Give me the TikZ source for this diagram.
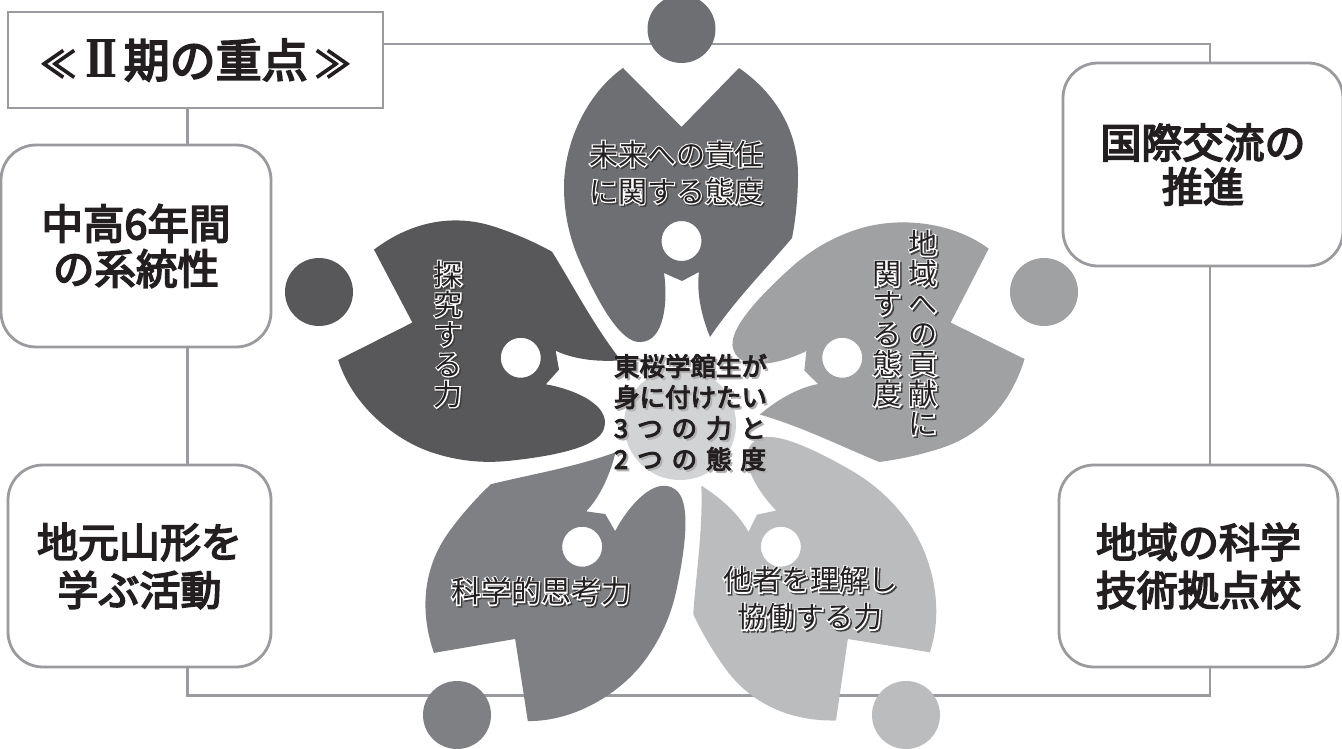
\documentclass[tikz,border=0pt]{standalone}
\usepackage{fontspec}
\setmainfont{Noto Sans CJK JP}
\newfontface\mediumface{Noto Sans CJK JP}[FakeBold=4]
\newfontface\rimface{Noto Sans CJK JP}[FakeBold=8]
\newfontface\numeralface{DejaVu Serif Bold}
\usetikzlibrary{calc}
\definecolor{framec}{HTML}{9A9B9E}
\definecolor{inkc}{HTML}{231F20}
\definecolor{petalA}{HTML}{6E6F72}
\definecolor{petalB}{HTML}{58585A}
\definecolor{petalC}{HTML}{7F8083}
\definecolor{petalD}{HTML}{BBBCBE}
\definecolor{petalE}{HTML}{A0A1A3}
\definecolor{hubc}{HTML}{D2D3D5}
% outlined petal lettering: dark drop shadow, white rim, dark core
\newcommand{\ot}[1]{\leavevmode
  \rlap{\kern1.5pt\raisebox{-1.5pt}{\rimface\color{black!75}#1}}%
  \rlap{\rimface\color{white}#1}%
  {\color{inkc}#1}}
% hub lettering with a grey drop shadow
\newcommand{\hs}[1]{\leavevmode\rlap{\kern2pt\raisebox{-2pt}{\color{black!30}#1}}{\color{inkc}#1}}
\newcommand{\hubline}[1]{\makebox[152pt][s]{#1}}
\tikzset{
  x=1pt, y=-1pt,
  frameline/.style={draw=framec, line width=2.8pt},
  headbox/.style={frameline, fill=white, rectangle, inner sep=0pt, text=inkc, align=center},
  themebox/.style={frameline, fill=white, rectangle, rounded corners=35pt, inner sep=0pt, text=inkc,
    align=center},
  petaltext/.style={inner sep=0pt, align=center, font=\fontsize{29}{37}\selectfont},
  columntext/.style={inner sep=0pt, align=center, font=\fontsize{29}{30}\selectfont},
  hubtext/.style={inner sep=0pt, align=center, font=\mediumface\fontsize{25.5}{31}\selectfont},
}
\begin{document}
\begin{tikzpicture}
\useasboundingbox (0,0) rectangle (1342,749);
\fill[white] (0,0) rectangle (1342,749);

% outer boxes
\node[headbox, minimum width=375pt, minimum height=96pt] (head) at (195.5,60) {\raisebox{-3pt}{%
  \mediumface\fontsize{46}{48}\selectfont
  {\fontsize{36}{48}\selectfont ≪}\kern9.5pt
  \resizebox{32pt}{38pt}{\numeralface Ⅱ}\kern6pt
  期の重点\kern7pt
  {\fontsize{36}{48}\selectfont ≫}}};
\node[themebox, minimum width=270pt, minimum height=202pt, font=\mediumface\fontsize{41.5}{45}\selectfont] (lefta) at (136,246) {中高6年間\\の系統性};
\node[themebox, minimum width=263pt, minimum height=202pt, font=\mediumface\fontsize{41}{48}\selectfont] (leftb) at (139.5,566) {地元山形を\\学ぶ活動};
\node[themebox, minimum width=280pt, minimum height=203pt, font=\mediumface\fontsize{41}{44}\selectfont] (righta) at (1203,164.5) {国際交流の\\推進};
\node[themebox, minimum width=279pt, minimum height=202pt, font=\mediumface\fontsize{41}{48}\selectfont] (rightb) at (1198.5,566) {地域の科学\\技術拠点校};

% connecting frame
\coordinate (ne) at (1210,44);
\coordinate (se) at (1210,695.5);
\coordinate (sw) at (187.5,695.5);
\draw[frameline] (head.east |- ne) -- (ne) -- (ne |- righta.north);
\draw[frameline] (ne |- righta.south) -- (ne |- rightb.north);
\draw[frameline] (ne |- rightb.south) -- (se) -- (sw) -- (sw |- leftb.south);
\draw[frameline] (sw |- leftb.north) -- (sw |- lefta.south);
\draw[frameline] (sw |- lefta.north) -- (sw |- head.south);

% hub disc
\coordinate (hub) at (681.5,410);
\fill[hubc] (680,424) circle[radius=56];

% five petals turned about the hub, each with its round cut-out
\foreach \ang/\col in {0/petalA,72/petalB,144/petalC,216/petalD,288/petalE}{
  \begin{scope}[rotate around={\ang:(hub)}]
    \fill[\col, even odd rule]
      (681.5,127) -- (739,68)
      .. controls (775,93) and (798,130) .. (798,175)
      .. controls (798,195) and (796,218) .. (792,238)
      .. controls (765,270) and (735,300) .. (710,337)
      .. controls (703,320) and (696,295) .. (699,272)
      -- (682,281) -- (664,273)
      .. controls (668,300) and (665,342) .. (640,342)
      .. controls (620,343) and (597,300) .. (580,262)
      .. controls (568,235) and (564,210) .. (564,187)
      .. controls (564,145) and (585,95) .. (623,68)
      -- cycle
      (681.5,241) circle[radius=20];
  \end{scope}
}

% satellite discs
\fill[petalA] (681.5,29) circle[radius=34];
\fill[petalB] (319,292) circle[radius=34];
\fill[petalC] (457,715) circle[radius=34];
\fill[petalD] (906,715) circle[radius=34];
\fill[petalE] (1044,292) circle[radius=34];

% petal labels
\node[petaltext] (lblfuture) at (676,173.5) {\ot{未来への責任}\\\ot{に関する態度}};
\node[columntext] (lblinquiry) at (448,335) {\ot{探}\\\ot{究}\\\ot{す}\\\ot{る}\\\ot{力}};
\node[columntext] (lblcommunitya) at (923,333.5) {\ot{地}\\\ot{域}\\\ot{へ}\\\ot{の}\\\ot{貢}\\\ot{献}\\\ot{に}};
\node[columntext] (lblcommunityb) at (887,335) {\ot{関}\\\ot{す}\\\ot{る}\\\ot{態}\\\ot{度}};
\node[petaltext, font=\fontsize{30}{37}\selectfont] (lblscience) at (541,592) {\ot{科学的思考力}};
\node[petaltext] (lblothers) at (810,599) {\ot{他者を理解し}\\\ot{協働する力}};

% hub label
\node[hubtext] (hublabel) at (690,413.5) {%
  \hubline{\hs{東}\hfill\hs{桜}\hfill\hs{学}\hfill\hs{館}\hfill\hs{生}\hfill\hs{が}}\\
  \hubline{\hs{身}\hfill\hs{に}\hfill\hs{付}\hfill\hs{け}\hfill\hs{た}\hfill\hs{い}}\\
  \hubline{\hs{3}\hfill\hs{つ}\hfill\hs{の}\hfill\hs{力}\hfill\hs{と}}\\
  \hubline{\hs{2}\hfill\hs{つ}\hfill\hs{の}\hfill\hs{態}\hfill\hs{度}}};
\end{tikzpicture}
\end{document}
